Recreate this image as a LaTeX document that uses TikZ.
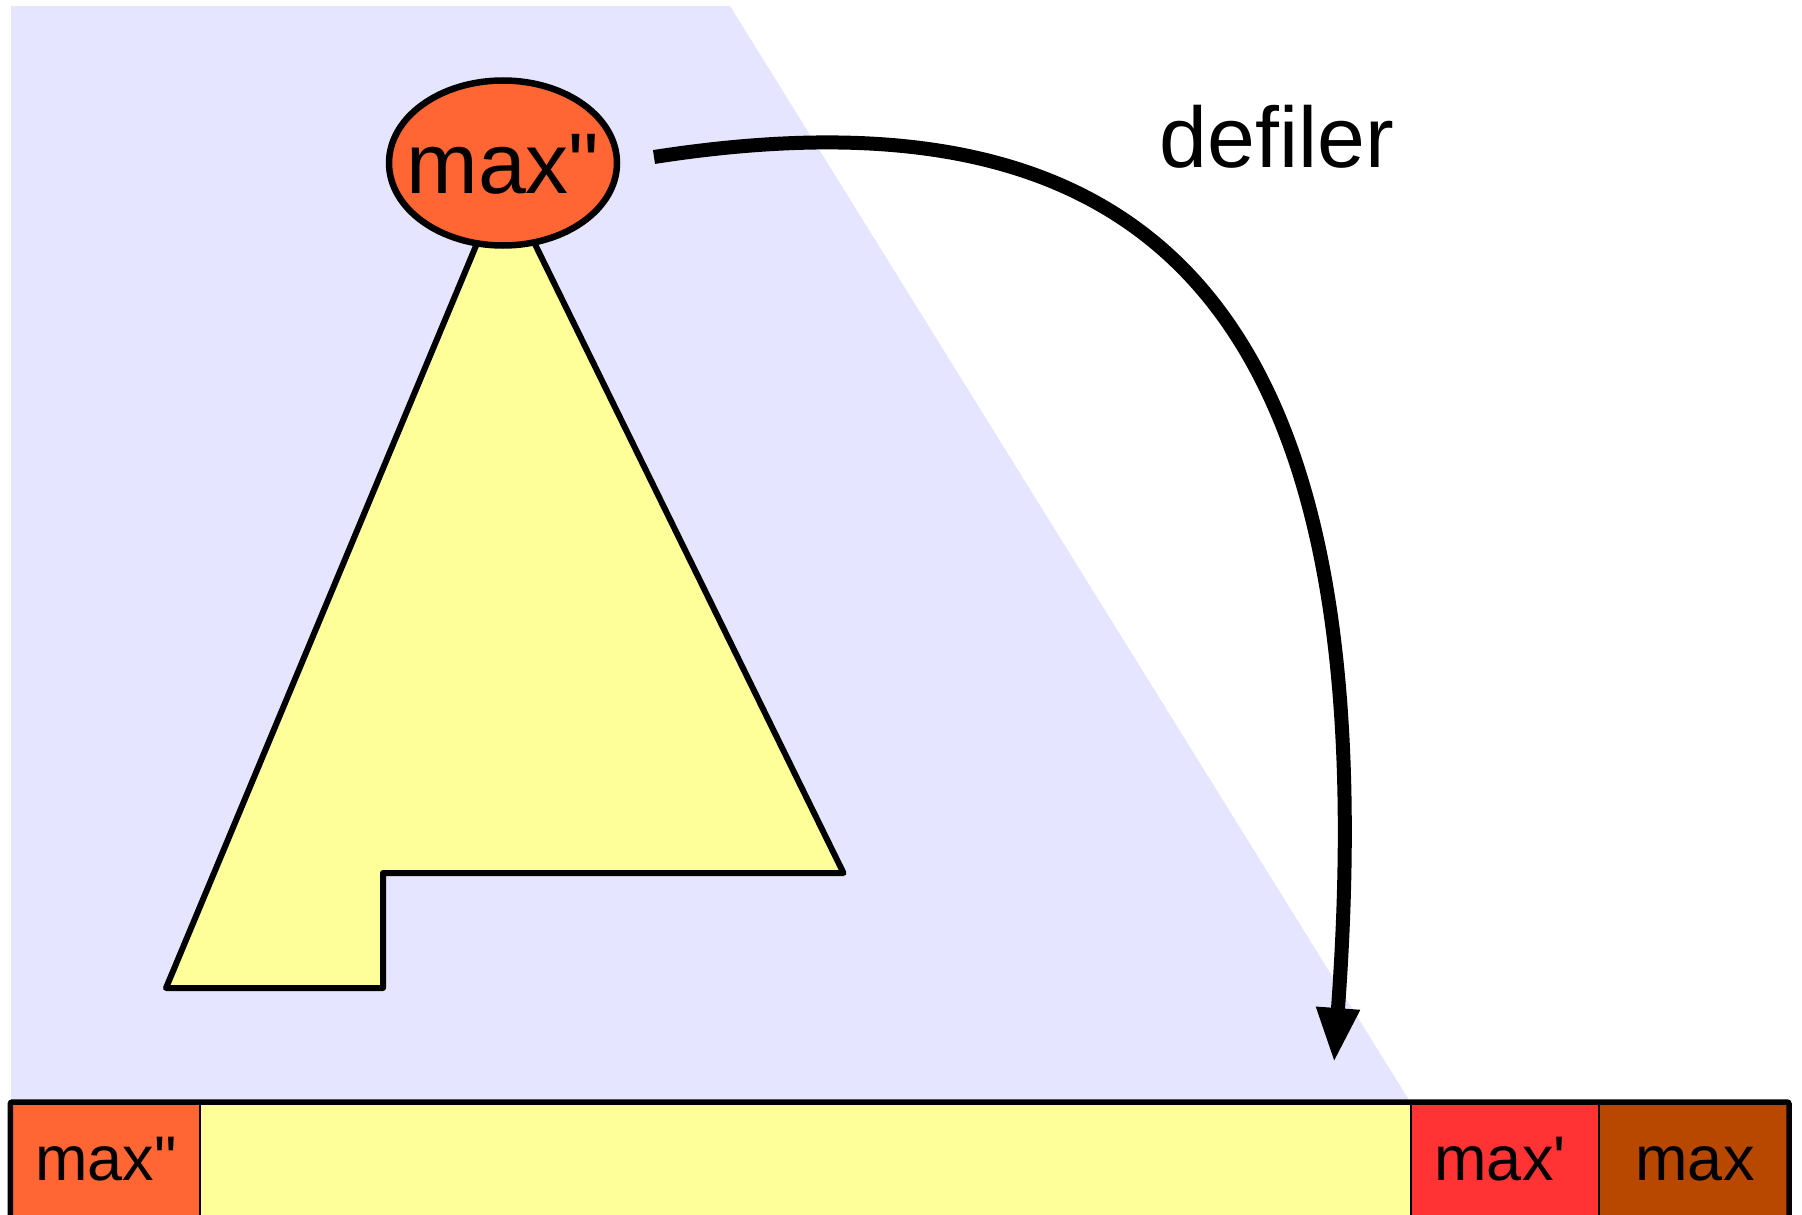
\documentclass[tikz,border=0pt]{standalone}
\usepackage{fontspec}
\setmainfont{Liberation Sans}
\usetikzlibrary{arrows.meta,shapes.geometric}
\definecolor{lav}{HTML}{E5E5FF}
\definecolor{orng}{HTML}{FF6633}
\definecolor{yel}{HTML}{FFFF99}
\definecolor{redc}{HTML}{FF3333}
\definecolor{brn}{HTML}{B84800}
\tikzset{
  bigtxt/.style={font=\fontsize{86}{100}\selectfont, inner sep=0pt, anchor=base},
  celltxt/.style={font=\fontsize{63}{75}\selectfont, inner sep=0pt, anchor=base},
  cellbox/.style={draw=black, line width=1.5pt},
}
\begin{document}
\begin{tikzpicture}[x=1pt,y=-1pt]
\useasboundingbox (0,0) rectangle (1802,1215);
% lavender background
\fill[lav] (11,6) -- (730,6) -- (1409,1100) -- (11,1100) -- cycle;
% yellow tree
\draw[fill=yel, line width=6pt, line join=round]
  (503.5,180) -- (166,988) -- (383,988) -- (383,873) -- (843.5,873) -- cycle;
% root ellipse
\node[ellipse, draw=black, fill=orng, line width=6.5pt, minimum width=228pt, minimum height=165pt, inner sep=0pt] (root) at (503,163) {};
\node[bigtxt] (rootlbl) at (503,193) {max\textquotedbl};
% bottom array
\fill[orng] (10,1102) rectangle (200,1230);
\fill[yel] (200,1102) rectangle (1411,1230);
\fill[redc] (1411,1102) rectangle (1599,1230);
\fill[brn] (1599,1102) rectangle (1789,1230);
\draw[cellbox] (200,1102) rectangle (1411,1230);
\draw[cellbox] (1599,1102) -- (1599,1230);
\draw[line width=5.5pt, rounded corners=2pt] (10.3,1230) -- (10.3,1102) -- (1789,1102) -- (1789,1230);
\node[celltxt] (c1) at (106,1180) {max\textquotedbl};
\node[celltxt] (c3) at (1500,1180) {max\textquotesingle};
\node[celltxt] (c4) at (1695,1180) {max};
% arrow
\coordinate (as) at (654,157);
\coordinate (ae) at (1334,1063);
\draw[line width=14pt, -{Triangle[length=55pt,width=40pt]}]
  (as) .. controls (1150,80) and (1390,300) .. (ae);
\node[bigtxt] (lbl) at (1277,167) {defiler};
\end{tikzpicture}
\end{document}
